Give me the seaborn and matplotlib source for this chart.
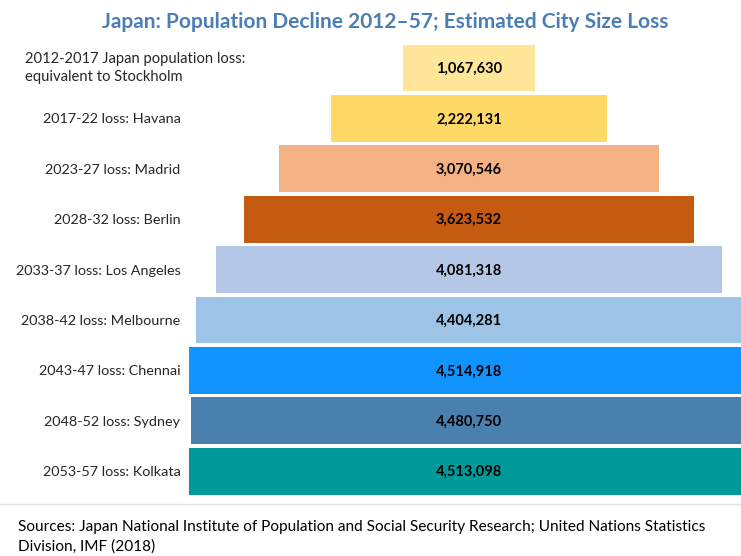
import matplotlib
matplotlib.use("Agg")
import matplotlib.pyplot as plt
import seaborn as sns
import pandas as pd
from matplotlib.lines import Line2D

labels = [
    "2012-2017 Japan population loss:\nequivalent to Stockholm",
    "2017-22 loss: Havana",
    "2023-27 loss: Madrid",
    "2028-32 loss: Berlin",
    "2033-37 loss: Los Angeles",
    "2038-42 loss: Melbourne",
    "2043-47 loss: Chennai",
    "2048-52 loss: Sydney",
    "2053-57 loss: Kolkata",
]
values = [1067630, 2222131, 3070546, 3623532, 4081318, 4404281, 4514918, 4480750, 4513098]
colors = ["#FFE699", "#FFD966", "#F4B183", "#C55A11", "#B4C7E7",
          "#9DC3E6", "#1194FF", "#4A80AE", "#009A9A"]

title = "Japan: Population Decline 2012\u201357; Estimated City Size Loss"
source = ("Sources: Japan National Institute of Population and Social Security Research; United Nations Statistics\n"
          "Division, IMF (2018)")

sns.set_theme(style="white")
plt.rcParams["font.family"] = ["Lato", "DejaVu Sans"]

W, H = 741, 556
fig = plt.figure(figsize=(W / 100, H / 100), dpi=100)

ax_left_px, ax_right_px = 186, 741
ax_top_px, ax_bot_px = 42.8, 496.4
ax = fig.add_axes([ax_left_px / W, 1 - ax_bot_px / H,
                   (ax_right_px - ax_left_px) / W, (ax_bot_px - ax_top_px) / H])

df = pd.DataFrame({"label": labels, "half": [v / 2 for v in values]})
df["neg"] = -df["half"]
pal = dict(zip(labels, colors))

for col in ["half", "neg"]:
    sns.barplot(data=df, y="label", x=col, hue="label", palette=pal, order=labels,
                hue_order=labels, legend=False, width=0.93, linewidth=0,
                saturation=1, ax=ax)

center_px = 469
scale = 124 / 1e6  # px per person
ax.set_xlim((ax_left_px - center_px) / scale, (ax_right_px - center_px) / scale)
ax.set_ylim(8.5, -0.5)

for i, v in enumerate(values):
    ax.text(0, i + 0.02, f"{v:,}", ha="center", va="center", fontsize=10.5,
            fontweight="bold", color="black")

ax.set_xlabel("")
ax.set_ylabel("")
ax.set_xticks([])
ax.set_yticks(range(len(labels)))
ax.set_yticklabels([""] + labels[1:], fontsize=10.4, color="#262626")
ax.tick_params(axis="y", length=0, pad=4)
for s in ax.spines.values():
    s.set_visible(False)

fig.text(25 / W, 1 - 68 / H, labels[0], ha="left", va="center", fontsize=10.6,
         color="#262626", linespacing=1.45)

fig.text(0.5 + 15 / W, 1 - 22 / H, title, ha="center", va="center", fontsize=15,
         fontweight="bold", color="#4A7EB5")

fig.add_artist(Line2D([0, 1], [1 - 504 / H, 1 - 504 / H], color="#E4E4E4", lw=1))

fig.text(18 / W, 1 - 537 / H, source, ha="left", va="center", fontsize=11.1,
         color="black", linespacing=1.45)

fig.savefig("out.png", dpi=100)
